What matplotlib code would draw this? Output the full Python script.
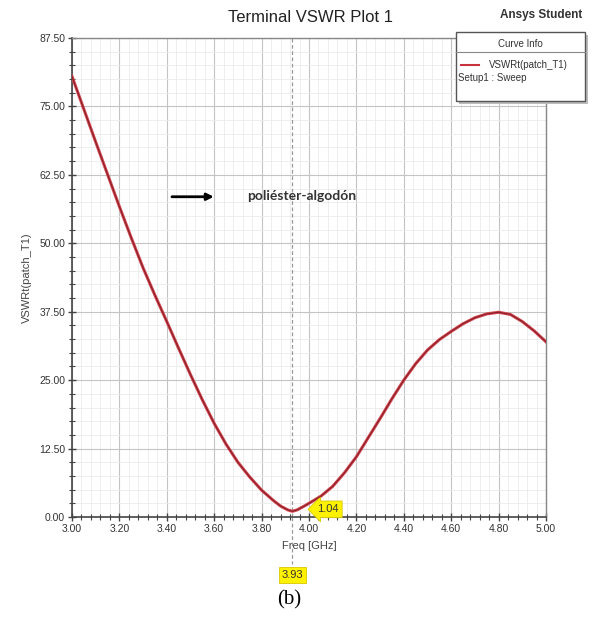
import numpy as np
import matplotlib
matplotlib.use('Agg')
from matplotlib import pyplot as plt
from matplotlib.ticker import MultipleLocator
from matplotlib.patches import Rectangle

plt.rcParams['font.family'] = ['Liberation Sans', 'DejaVu Sans']

# datos
freq = [3.00, 3.05, 3.10, 3.15, 3.20, 3.25, 3.30, 3.35, 3.40, 3.45, 3.50,
        3.55, 3.60, 3.65, 3.70, 3.75, 3.80, 3.85, 3.88, 3.91, 3.93, 3.95,
        3.98, 4.00, 4.05, 4.10, 4.15, 4.20, 4.25, 4.30, 4.35, 4.40, 4.45,
        4.50, 4.55, 4.60, 4.65, 4.70, 4.75, 4.80, 4.85, 4.90, 4.95, 5.00]
vswr = [80.5, 74.5, 68.5, 62.6, 56.7, 51.0, 45.5, 40.5, 35.7, 30.8, 26.0,
        21.4, 17.1, 13.3, 10.0, 7.3, 4.9, 3.0, 2.0, 1.3, 1.04, 1.3,
        2.0, 2.5, 3.8, 5.6, 8.1, 11.0, 14.5, 18.0, 21.6, 25.0, 28.0,
        30.5, 32.4, 33.9, 35.3, 36.4, 37.1, 37.4, 37.0, 35.7, 34.0, 32.0]
xticks = [3.0, 3.2, 3.4, 3.6, 3.8, 4.0, 4.2, 4.4, 4.6, 4.8, 5.0]
yticks = [0, 12.5, 25, 37.5, 50, 62.5, 75, 87.5]
f_min, v_min = 3.93, 1.04

fig = plt.figure(figsize=(5.94, 6.22), dpi=100)
ax = fig.add_axes([72/594, 1-517/622, 474/594, 479/622])

ax.plot(freq, vswr, color='#d0454f', lw=2.2, zorder=3)
ax.plot(freq, vswr, color='#8a1f28', lw=0.8, zorder=4)

ax.set_xlim(3.0, 5.0)
ax.set_ylim(0, 87.5)
ax.set_xticks(xticks)
ax.set_yticks(yticks)
ax.set_xticklabels(['%.2f' % t for t in xticks], fontsize=7.5, color='#333333')
ax.set_yticklabels(['%.2f' % t for t in yticks], fontsize=7.5, color='#333333')
ax.xaxis.set_minor_locator(MultipleLocator(0.04))
ax.yaxis.set_minor_locator(MultipleLocator(2.5))
ax.grid(which='major', color='#c4c4c4', lw=0.8)
ax.grid(which='minor', color='#ebebeb', lw=0.6)
ax.set_axisbelow(True)
ax.tick_params(which='major', direction='inout', length=6, width=1, color='#444444', pad=2)
ax.tick_params(which='minor', direction='inout', length=4, width=0.8, color='#444444')
for s in ['left', 'bottom']:
    ax.spines[s].set_color('#444444')
    ax.spines[s].set_linewidth(1.2)
for s in ['top', 'right']:
    ax.spines[s].set_color('#888888')
    ax.spines[s].set_linewidth(1.0)

ax.set_xlabel('Freq [GHz]', fontsize=8, color='#444444', labelpad=5)
ax.set_ylabel('VSWRt(patch_T1)', fontsize=8, color='#444444', labelpad=5)

# marcador en el minimo
ax.axvline(f_min, color='#999999', lw=0.9, ls=(0, (3, 2)), zorder=2)
ax.plot([f_min, f_min], [0, -8.5], color='#999999', lw=0.9, ls=(0, (3, 2)),
        clip_on=False)
ax.annotate('%.2f' % v_min, xy=(f_min, v_min), xytext=(4.035, 1.4),
            fontsize=8, color='#333333', va='center', ha='left',
            bbox=dict(boxstyle='larrow,pad=0.3', fc='#fff200', ec='#d6c800', lw=0.6))
ax.text(f_min, -10.6, '%.2f' % f_min, fontsize=8, color='#333333',
        ha='center', va='center',
        bbox=dict(boxstyle='square,pad=0.25', fc='#fff200', ec='#d6c800', lw=0.6))

ax.annotate('', xy=(3.61, 58.5), xytext=(3.41, 58.5),
            arrowprops=dict(arrowstyle='-|>', color='black', lw=2, mutation_scale=10))
ax.text(3.74, 58.7, 'poliéster-algodón', fontsize=10, fontweight='bold',
        family='Lato', color='#333333', va='center')

fig.text(310/594, 1-17/622, 'Terminal VSWR Plot 1', fontsize=12,
         ha='center', va='center', color='#222222')
fig.text(541/594, 1-15/622, 'Ansys Student', fontsize=8.5, fontweight='bold',
         ha='center', va='center', color='#333333')

# caja de la leyenda
x0, y0, w, h = 456/594, 1-101/622, 129/594, 69/622
fig.patches.append(Rectangle((x0+3/594, y0-3/622), w, h, transform=fig.transFigure,
                             fc='#bbbbbb', ec='none', zorder=5))
fig.patches.append(Rectangle((x0, y0), w, h, transform=fig.transFigure,
                             fc='white', ec='#555555', lw=1, zorder=6))
fig.lines.append(plt.Line2D([x0, x0+w], [1-52/622, 1-52/622], transform=fig.transFigure,
                            color='#888888', lw=0.8, zorder=7))
fig.text(x0+w/2, 1-44/622, 'Curve Info', fontsize=7, ha='center', va='center',
         color='#333333', zorder=7)
fig.lines.append(plt.Line2D([461/594, 479/594], [1-65/622, 1-65/622], transform=fig.transFigure,
                            color='#c8323c', lw=1.5, zorder=7))
fig.text(489/594, 1-65/622, 'VSWRt(patch_T1)', fontsize=7, ha='left', va='center',
         color='#333333', zorder=7)
fig.text(458/594, 1-78/622, 'Setup1 : Sweep', fontsize=7, ha='left', va='center',
         color='#333333', zorder=7)

fig.text(289/594, 1-600/622, '(b)', fontsize=15, family='Liberation Serif',
         ha='center', va='center', color='black')

fig.savefig('out.png', dpi=100)
